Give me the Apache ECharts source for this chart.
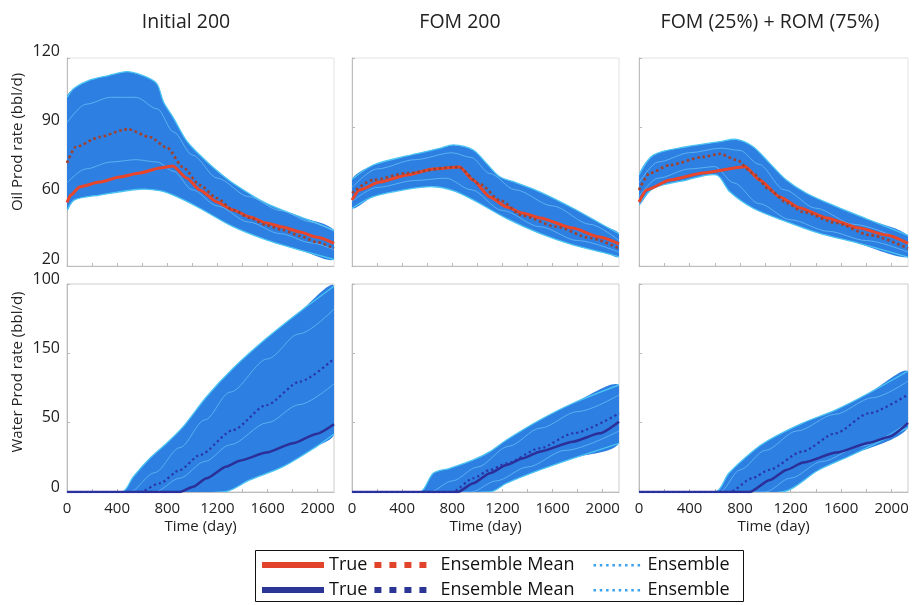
<!DOCTYPE html>
<html>
<head>
<meta charset="utf-8">
<script src="https://cdn.jsdelivr.net/npm/echarts@6/dist/echarts.min.js"></script>
<style>
  html, body { margin: 0; padding: 0; background: #fff; }
  #chart { width: 915px; height: 605px; }
</style>
</head>
<body>
<div id="chart"></div>
<script>
// ---- labels and ticks ----
const panelTitles = ['Initial 200', 'FOM 200', 'FOM (25%) + ROM (75%)'];
const oilAxisTitle = 'Oil Prod rate (bbl/d)';
const waterAxisTitle = 'Water Prod rate (bbl/d)';
const timeAxisTitle = 'Time (day)';
const timeTicks = [0, 400, 800, 1200, 1600, 2000];
const oilTickValues = [30, 60, 90, 120];
const oilTickLabels = ['20', '60', '90', '120'];
const waterTickValues = [0, 50, 100, 150];
const waterTickLabels = ['0', '50', '150', '100'];
const XMAX = 2130;

// ---- oil rate, Initial 200 ----
const oilTrueInit = [[0,57.5],[30,60.7],[100,64.2],[260,66.3],[420,68.5],[580,70.2],[740,72.4],[845,73.3],[955,68.1],[1060,62.9],[1195,57.7],[1325,54.2],[1460,51.2],[1590,48.6],[1720,46.9],[1860,44.7],[1990,42.5],[2130,39.8]];
const oilMeanInit = [[0,74.6],[70,81.5],[260,85.8],[450,88.8],[480,89.3],[660,85.8],[800,81.1],[925,72.8],[1060,65.0],[1195,59.4],[1325,54.2],[1460,50.8],[1590,47.7],[1720,45.6],[1860,43.0],[1990,40.4],[2130,37.6]];
const oilHiInit = [[0,103],[60,107],[190,110.6],[330,112.4],[475,114.1],[600,112.5],[715,109],[770,101],[850,94],[950,84.5],[1060,78],[1190,71.5],[1325,65.8],[1590,57.1],[1860,51.3],[2130,45.5]];
const oilLoInit = [[0,54.2],[60,58.6],[260,60.7],[580,63.2],[740,62.6],[875,60],[1060,55],[1325,47],[1590,41.3],[1860,36.9],[2130,32.8]];
const oilMembersInit = [
  [[0,92],[150,100],[350,103],[550,103],[720,98],[850,88],[1000,78],[1200,68],[1450,60],[1700,54],[1950,49],[2130,45]],
  [[0,66],[150,72],[350,75],[550,76],[720,75],[850,71],[1000,63],[1200,56],[1450,49],[1700,44],[1950,40],[2130,37]]
];

// ---- oil rate, FOM 200 ----
const oilTrueFom = [[0,58.6],[60,62.9],[220,66.3],[440,69.4],[645,72.0],[860,72.8],[965,67.2],[1100,59.9],[1235,55.5],[1360,52.9],[1500,50.8],[1760,46.4],[1975,42.5],[2130,39.6]];
const oilMeanFom = [[0,61.6],[165,67.2],[440,70.2],[800,72.8],[850,72.8],[1020,65.5],[1180,58.5],[1360,51.8],[1630,47.0],[1900,42.1],[2130,37.6]];
const oilHiFom = [[0,67.5],[170,73.7],[436,77.6],[700,80.9],[807,82.4],[967,80.2],[1073,74.4],[1179,68.6],[1312,66.0],[1498,62.1],[1763,55.0],[2029,47.0],[2130,44.0]];
const oilLoFom = [[0,55.0],[170,60.0],[436,63.2],[648,64.3],[807,62.6],[967,58.6],[1232,50.6],[1498,44.1],[1763,39.1],[2029,35.5],[2130,34.0]];
const oilMembersFom = [
  [[0,64],[200,72],[500,76],[800,79],[950,77],[1100,70],[1300,63],[1600,56],[1900,48],[2130,41]],
  [[0,58],[200,64],[500,67],[750,68],[950,63],[1200,54],[1500,47],[1800,41],[2130,36]]
];

// ---- oil rate, FOM (25%) + ROM (75%) ----
const oilTrueRom = [[0,57.7],[60,62.9],[245,67.2],[505,70.2],[820,72.8],[840,73.0],[955,67.2],[1115,59.9],[1275,55.1],[1485,50.8],[1745,46.4],[1960,43.4],[2130,39.8]];
const oilMeanRom = [[0,62.9],[85,70.2],[245,73.7],[505,77.2],[640,78.5],[775,75.9],[900,70.2],[1035,62.9],[1170,57.3],[1295,53.4],[1565,48.6],[1825,43.4],[2130,37.6]];
const oilHiRom = [[0,69.4],[113,78.0],[377,81.6],[640,83.8],[772,84.8],[904,81.6],[1036,74.4],[1167,67.2],[1326,61.5],[1563,55.7],[1826,49.9],[2130,43.2]];
const oilLoRom = [[0,56.4],[113,63.6],[377,67.2],[614,69.4],[719,62.1],[904,55.0],[1167,49.2],[1431,44.1],[1694,40.5],[2130,33.8]];
const oilMembersRom = [
  [[0,66],[150,75],[400,79],[650,81],[800,80],[950,74],[1150,63],[1400,55],[1700,48],[2130,40]],
  [[0,60],[150,68],[400,72],[600,73],[750,66],[950,57],[1200,50],[1500,45],[1800,41],[2130,36]]
];

// ---- water rate, Initial 200 ----
const waterTrueInit = [[0,0],[900,0],[1006,3.8],[1113,9.9],[1272,18.3],[1378,22.6],[1591,28.4],[1803,35.1],[1989,41.8],[2130,48.8]];
const waterMeanInit = [[0,0],[580,0],[741,6.3],[900,15.9],[1060,26.7],[1325,44.7],[1591,62.7],[1857,79.6],[2130,96.2]];
const waterHiInit = [[0,0],[440,0],[529,11.0],[661,24.3],[794,35.1],[927,47.1],[1113,68.7],[1325,89.2],[1591,110.8],[1857,130.0],[2130,148.4]];
const waterLoInit = [[0,0],[1250,0],[1458,8.7],[1724,18.3],[1989,32.7],[2130,41.8]];
const waterMembersInit = [
  [[0,0],[500,0],[700,14],[900,32],[1100,52],[1300,72],[1600,96],[1850,114],[2130,132]],
  [[0,0],[700,0],[900,10],[1100,22],[1300,34],[1600,50],[1850,63],[2130,78]]
];

// ---- water rate, FOM 200 ----
const waterTrueFom = [[0,0],[845,0],[967,6.3],[1100,13.5],[1232,19.5],[1365,24.3],[1498,29.1],[1763,36.3],[1976,42.3],[2130,50.7]];
const waterMeanFom = [[0,0],[800,0],[967,9.9],[1100,15.9],[1232,20.7],[1498,31.5],[1763,42.3],[2130,56.7]];
const waterHiFom = [[0,0],[542,0],[648,13.5],[781,17.1],[967,23.1],[1100,29.1],[1232,37.5],[1498,51.9],[1763,64.0],[2130,77.2]];
const waterLoFom = [[0,0],[1100,0],[1232,6.3],[1498,15.9],[1763,24.3],[2130,35.1]];
const waterMembersFom = [
  [[0,0],[620,0],[800,8],[1000,18],[1250,33],[1500,46],[1800,58],[2130,70]],
  [[0,0],[950,0],[1150,8],[1400,18],[1700,30],[2130,44]]
];

// ---- water rate, FOM (25%) + ROM (75%) ----
const waterTrueRom = [[0,0],[877,0],[1036,8.7],[1167,15.9],[1299,21.2],[1563,28.4],[1826,35.6],[1984,39.9],[2130,49.8]];
const waterMeanRom = [[0,0],[719,0],[896,9.9],[1028,15.9],[1291,29.1],[1555,42.3],[1818,56.7],[2130,70.3]];
const waterHiRom = [[0,0],[606,0],[711,13.5],[896,29.1],[1028,37.5],[1291,49.5],[1555,59.1],[1818,71.2],[2130,87.2]];
const waterLoRom = [[0,0],[1133,0],[1423,15.9],[1686,26.7],[2130,46.5]];
const waterMembersRom = [
  [[0,0],[640,0],[800,16],[1000,30],[1250,44],[1550,56],[1850,68],[2130,80]],
  [[0,0],[1000,0],[1200,10],[1450,22],[1750,33],[2130,50]]
];

// ---- styling ----
const FONT = '"Open Sans", "DejaVu Sans", sans-serif';
const SMOOTH = 0.3;
const C = {
  band: '#2d7fe2', edge: '#4cc5f3', streak: '#6cc0f4',
  oilTrue: '#e8452a', oilMean: '#a3402d',
  waterTrue: '#2b2f97', waterMean: '#2a35a6',
  legendRed: '#e2432b', legendNavy: '#2b3596', legendEns: '#3aa2f0',
  frame: '#cdcdcd', text: '#222'
};

const cols = [{ left: 67, width: 267 }, { left: 352, width: 267 }, { left: 639, width: 269 }];
const rows = [{ top: 58, height: 208 }, { top: 284, height: 208 }];

const panels = [
  [{ truth: oilTrueInit, mean: oilMeanInit, hi: oilHiInit, lo: oilLoInit, members: oilMembersInit },
   { truth: oilTrueFom, mean: oilMeanFom, hi: oilHiFom, lo: oilLoFom, members: oilMembersFom },
   { truth: oilTrueRom, mean: oilMeanRom, hi: oilHiRom, lo: oilLoRom, members: oilMembersRom }],
  [{ truth: waterTrueInit, mean: waterMeanInit, hi: waterHiInit, lo: waterLoInit, members: waterMembersInit },
   { truth: waterTrueFom, mean: waterMeanFom, hi: waterHiFom, lo: waterLoFom, members: waterMembersFom },
   { truth: waterTrueRom, mean: waterMeanRom, hi: waterHiRom, lo: waterLoRom, members: waterMembersRom }]
];

const grid = [], xAxis = [], yAxis = [], series = [];

// ensemble envelope: filled area between the lower and upper member curves, with light edges
function bandSeries(idx, hi, lo) {
  return {
    type: 'custom', name: 'Ensemble', xAxisIndex: idx, yAxisIndex: idx,
    clip: true, z: 2, silent: true, data: [[0, 0]],
    renderItem: function (params, api) {
      const top = hi.map(p => api.coord(p));
      const bottom = lo.map(p => api.coord(p));
      const edge = { stroke: C.edge, lineWidth: 1.3, fill: null };
      return {
        type: 'group',
        children: [
          { type: 'polygon', shape: { points: top.concat(bottom.slice().reverse()), smooth: SMOOTH },
            style: { fill: C.band } },
          { type: 'polyline', shape: { points: top, smooth: SMOOTH }, style: edge },
          { type: 'polyline', shape: { points: bottom, smooth: SMOOTH }, style: edge }
        ]
      };
    }
  };
}

function lineSeries(idx, name, data, color, width, dash, z, smooth, opacity) {
  return {
    type: 'line', name: name, xAxisIndex: idx, yAxisIndex: idx, data: data,
    showSymbol: false, symbol: 'none', smooth: smooth, smoothMonotone: 'x',
    clip: true, z: z, silent: true, animation: false,
    lineStyle: { color: color, width: width, type: dash, cap: 'butt', opacity: opacity == null ? 1 : opacity },
    itemStyle: { color: color }, emphasis: { disabled: true }
  };
}

for (let r = 0; r < 2; r++) {
  for (let c = 0; c < 3; c++) {
    const idx = r * 3 + c;
    const isOil = r === 0;
    grid.push({
      left: cols[c].left, top: rows[r].top, width: cols[c].width, height: rows[r].height,
      show: true, borderColor: isOil ? '#e2e2e2' : C.frame, borderWidth: 1, backgroundColor: 'transparent'
    });
    xAxis.push({
      type: 'value', gridIndex: idx, min: 0, max: XMAX, interval: 400,
      axisLine: { show: true, lineStyle: { color: '#bdbdbd' } },
      axisTick: { show: true, inside: true, length: 3, lineStyle: { color: '#b8b8b8' },
                  customValues: [0,200,400,600,800,1000,1200,1400,1600,1800,2000] },
      splitLine: { show: false },
      axisLabel: {
        show: !isOil, customValues: timeTicks, margin: 9,
        formatter: v => String(v),
        fontFamily: FONT, fontSize: 15, color: C.text
      },
      name: isOil ? '' : timeAxisTitle, nameLocation: 'middle', nameGap: 27,
      nameTextStyle: { fontFamily: FONT, fontSize: 15, color: C.text }
    });
    const tv = isOil ? oilTickValues : waterTickValues;
    const tl = isOil ? oilTickLabels : waterTickLabels;
    yAxis.push({
      type: 'value', gridIndex: idx,
      min: isOil ? 30 : 0, max: isOil ? 120 : 150, interval: isOil ? 30 : 50,
      axisLine: { show: true, lineStyle: { color: '#bdbdbd' } },
      axisTick: { show: true, inside: true, length: 3, lineStyle: { color: '#b8b8b8' } },
      splitLine: { show: false },
      axisLabel: {
        show: c === 0, customValues: tv, margin: 7,
        formatter: v => { const i = tv.indexOf(v); return i >= 0 ? tl[i] : ''; },
        verticalAlign: 'bottom', lineHeight: isOil ? 14 : 10,
        fontFamily: FONT, fontSize: 16, color: C.text
      }
    });
    const p = panels[r][c];
    series.push(bandSeries(idx, p.hi, p.lo));
    p.members.forEach(m => series.push(lineSeries(idx, 'Ensemble', m, C.streak, 1, 'solid', 3, SMOOTH, 0.75)));
    if (isOil) {
      series.push(lineSeries(idx, 'True', p.truth, C.oilTrue, 3, 'solid', 4, 0.2));
      series.push(lineSeries(idx, 'Ensemble Mean', p.mean, C.oilMean, 2.6, [2.6, 2.8], 5, 0.25));
    } else {
      series.push(lineSeries(idx, 'True', p.truth, C.waterTrue, 2.5, 'solid', 4, 0.2));
      series.push(lineSeries(idx, 'Ensemble Mean', p.mean, C.waterMean, 2.2, [2.2, 3], 5, 0.25));
    }
  }
}

// legend icons (62 x 6 boxes)
const iconLine = 'path://M0,0 L62,0 L62,6 L0,6 Z';
const iconSquares = 'path://M0,3 L0,3 M1,0 L8,0 L8,6 L1,6 Z M16,0 L23,0 L23,6 L16,6 Z M31,0 L38,0 L38,6 L31,6 Z M46,0 L53,0 L53,6 L46,6 Z M62,3 L62,3';
const iconDots = 'path://M0,0 L0,0 M13,2 L15.5,2 L15.5,4.5 L13,4.5 Z M19.3,2 L21.8,2 L21.8,4.5 L19.3,4.5 Z M25.6,2 L28.1,2 L28.1,4.5 L25.6,4.5 Z M31.9,2 L34.4,2 L34.4,4.5 L31.9,4.5 Z M38.2,2 L40.7,2 L40.7,4.5 L38.2,4.5 Z M44.5,2 L47,2 L47,4.5 L44.5,4.5 Z M50.8,2 L53.3,2 L53.3,4.5 L50.8,4.5 Z M57.1,2 L59.6,2 L59.6,4.5 L57.1,4.5 Z M62,6 L62,6';

function legendRow(top, trueColor, meanColor) {
  return {
    left: 262, top: top, orient: 'horizontal', padding: 0, itemGap: 6,
    itemWidth: 62, itemHeight: 6, symbolKeepAspect: false, selectedMode: false,
    textStyle: { fontFamily: FONT, fontSize: 18, color: '#111', lineHeight: 20 },
    data: [
      { name: 'True', icon: iconLine, itemStyle: { color: trueColor, borderWidth: 0 } },
      { name: 'Ensemble Mean', icon: iconSquares, itemStyle: { color: meanColor, borderWidth: 0 } },
      { name: 'Ensemble', icon: iconDots, itemStyle: { color: C.legendEns, borderWidth: 0 } }
    ]
  };
}

// panel headings
const titleCenters = [186, 460, 770];
const graphic = titleCenters.map((x, i) => ({
  type: 'text', x: x, y: 22, silent: true,
  style: { text: panelTitles[i], fontFamily: FONT, fontSize: 19.5, fill: C.text,
           align: 'center', verticalAlign: 'middle', textAlign: 'center', textVerticalAlign: 'middle' }
}));
// rotated y-axis titles
[[oilAxisTitle, 142], [waterAxisTitle, 372]].forEach(([t, y]) => graphic.push({
  type: 'text', x: 18, y: y, rotation: Math.PI / 2, silent: true,
  style: { text: t, fontFamily: FONT, fontSize: 15, fill: C.text,
           align: 'center', verticalAlign: 'middle', textAlign: 'center', textVerticalAlign: 'middle' }
}));
// legend frame
graphic.push({
  type: 'rect', silent: true, z: -1,
  shape: { x: 255.5, y: 550.5, width: 488, height: 51 },
  style: { fill: 'none', stroke: '#111', lineWidth: 1 }
});

const chart = echarts.init(document.getElementById('chart'), null, { renderer: 'canvas' });
chart.setOption({
  animation: false,
  backgroundColor: '#fff',
  grid: grid, xAxis: xAxis, yAxis: yAxis, series: series,
  legend: [legendRow(555, C.legendRed, C.legendRed), legendRow(580, C.legendNavy, C.legendNavy)],
  graphic: graphic
});
</script>
</body>
</html>
